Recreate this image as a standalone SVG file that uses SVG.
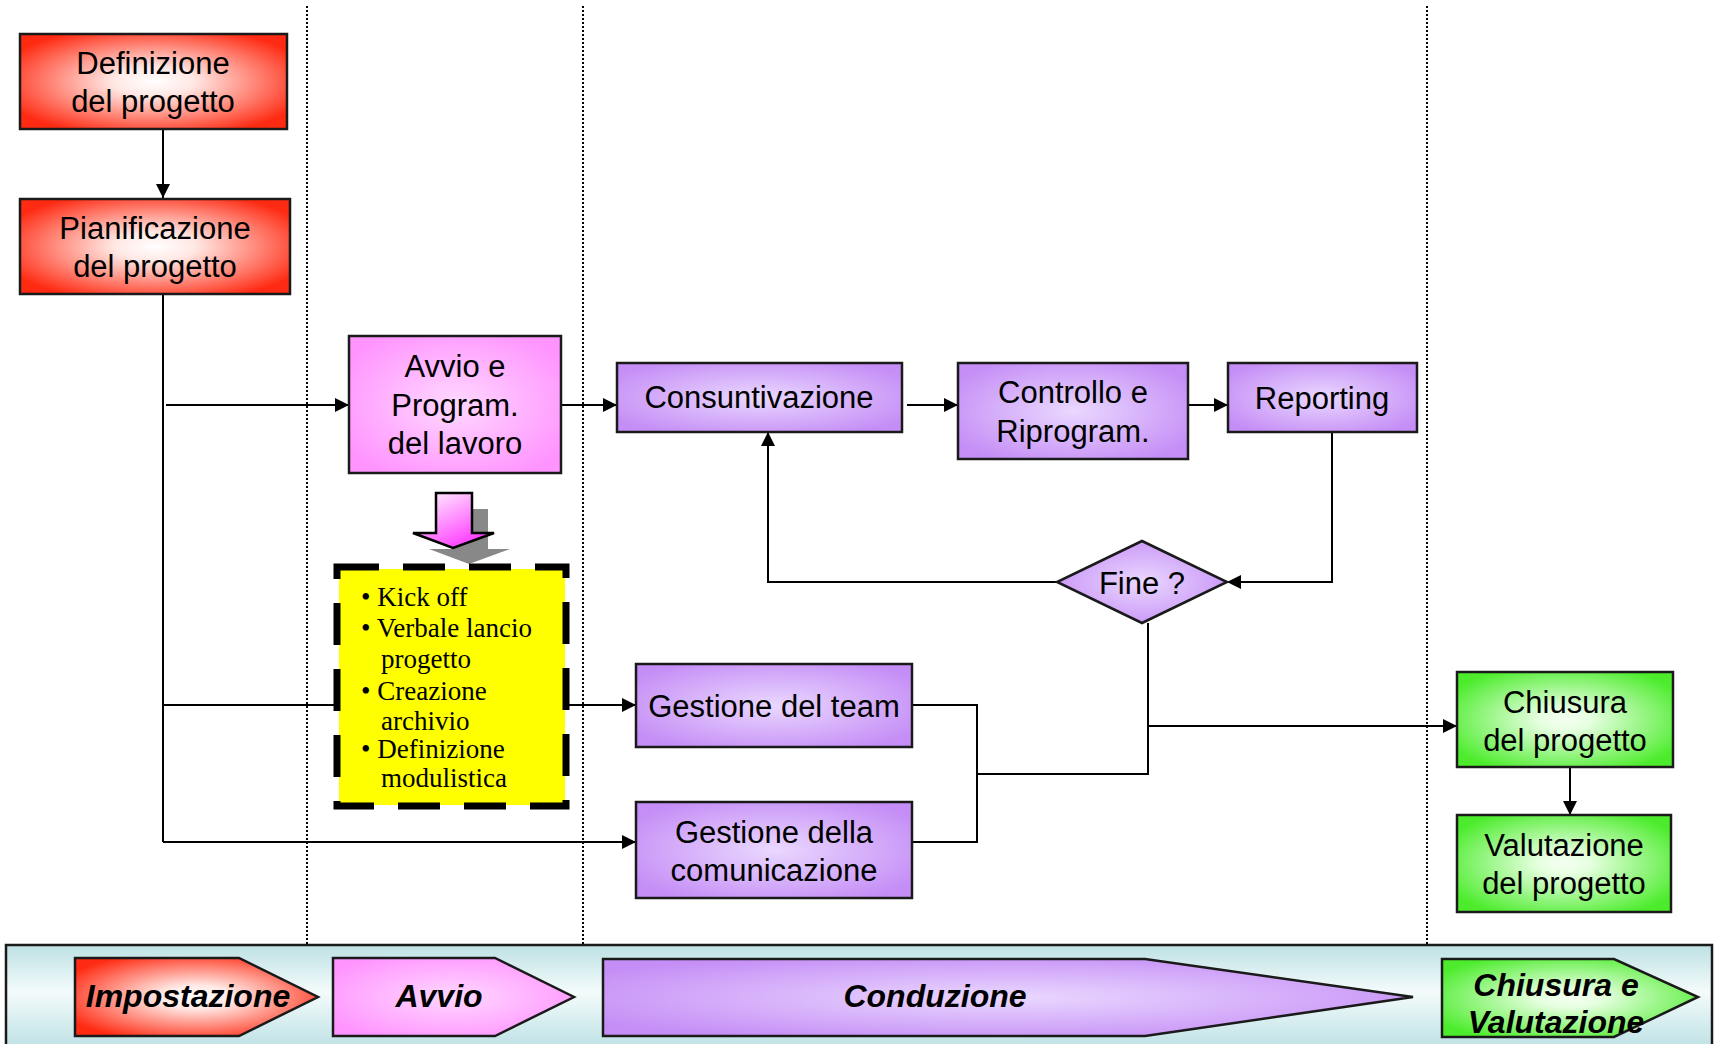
<svg xmlns="http://www.w3.org/2000/svg" width="1715" height="1044" viewBox="0 0 1715 1044">
<defs>
<radialGradient id="gRed" cx="0.5" cy="0.5" r="0.6"><stop offset="0" stop-color="#ffffff"/><stop offset="0.25" stop-color="#ffe8e4"/><stop offset="1" stop-color="#ff2a12"/></radialGradient>
<radialGradient id="gPink" cx="0.5" cy="0.5" r="0.6"><stop offset="0" stop-color="#ffd8ff"/><stop offset="1" stop-color="#ff94ff"/></radialGradient>
<radialGradient id="gPur" cx="0.5" cy="0.5" r="0.6"><stop offset="0" stop-color="#ead8ff"/><stop offset="1" stop-color="#c58ef6"/></radialGradient>
<radialGradient id="gGreen" cx="0.5" cy="0.5" r="0.6"><stop offset="0" stop-color="#f4fff2"/><stop offset="0.2" stop-color="#e6ffe0"/><stop offset="1" stop-color="#4cec2c"/></radialGradient>
<linearGradient id="gBand" x1="0" y1="0" x2="0" y2="1"><stop offset="0" stop-color="#bde1e4"/><stop offset="0.45" stop-color="#f4fbfb"/><stop offset="1" stop-color="#bde1e4"/></linearGradient>
<linearGradient id="gDown" x1="0" y1="0" x2="0.7" y2="1"><stop offset="0" stop-color="#ffffff"/><stop offset="1" stop-color="#ff33ff"/></linearGradient>
<marker id="arr" viewBox="0 0 14 14" refX="14" refY="7" markerWidth="15" markerHeight="14" markerUnits="userSpaceOnUse" orient="auto"><path d="M0,0 L14,7 L0,14 z" fill="#000"/></marker>
</defs>
<style>
.box{stroke:#1a1a1a;stroke-width:2.5}
.t{font-family:"Liberation Sans",Arial,sans-serif;font-size:31px;fill:#000;text-anchor:middle}
.bt{font-family:"Liberation Sans",Arial,sans-serif;font-size:32px;font-weight:bold;font-style:italic;fill:#000;text-anchor:middle}
.tm{font-family:"Liberation Serif","Times New Roman",serif;font-size:27px;fill:#000}
.c{fill:none;stroke:#000;stroke-width:2}
.dot{fill:none;stroke:#000;stroke-width:2;stroke-dasharray:2 2}
</style>
<rect width="1715" height="1044" fill="#ffffff"/>

<g id="swimlanes">
<line class="dot" x1="307" y1="6" x2="307" y2="944"/>
<line class="dot" x1="583" y1="6" x2="583" y2="944"/>
<line class="dot" x1="1427" y1="6" x2="1427" y2="944"/>
</g>

<g id="connectors">
<path class="c" d="M163,129 V198" marker-end="url(#arr)"/>
<path class="c" d="M163,295 V842"/>
<path class="c" d="M166,405 H349" marker-end="url(#arr)"/>
<path class="c" d="M163,705 H337"/>
<path class="c" d="M163,842 H636" marker-end="url(#arr)"/>
<path class="c" d="M561,405 H617" marker-end="url(#arr)"/>
<path class="c" d="M907,405 H958" marker-end="url(#arr)"/>
<path class="c" d="M1188,405 H1228" marker-end="url(#arr)"/>
<path class="c" d="M1332,432 V582 H1227" marker-end="url(#arr)"/>
<path class="c" d="M1057,582 H768 V432" marker-end="url(#arr)"/>
<path class="c" d="M567,705 H636" marker-end="url(#arr)"/>
<path class="c" d="M912,705 H977 V842 H912"/>
<path class="c" d="M977,774 H1148 V623"/>
<path class="c" d="M1148,726 H1457" marker-end="url(#arr)"/>
<path class="c" d="M1570,767 V815" marker-end="url(#arr)"/>
</g>

<g id="n-definizione">
<rect class="box" x="20" y="34" width="267" height="95" fill="url(#gRed)"/>
<text class="t" x="153" y="74">Definizione</text>
<text class="t" x="153" y="112">del progetto</text>
</g>
<g id="n-pianificazione">
<rect class="box" x="20" y="199" width="270" height="95" fill="url(#gRed)"/>
<text class="t" x="155" y="239">Pianificazione</text>
<text class="t" x="155" y="277">del progetto</text>
</g>
<g id="n-avvio">
<rect class="box" x="349" y="336" width="212" height="137" fill="url(#gPink)"/>
<text class="t" x="455" y="377">Avvio e</text>
<text class="t" x="455" y="416">Program.</text>
<text class="t" x="455" y="454">del lavoro</text>
</g>
<g id="n-down-arrow">
<polygon points="452,509 488,509 488,549 510,549 469,564 429,549 452,549" fill="#888888"/>
<polygon points="436,493 472,493 472,533 494,533 453,548 413,533 436,533" fill="url(#gDown)" stroke="#000" stroke-width="2.5" stroke-linejoin="miter"/>
</g>
<g id="n-kickoff">
<rect x="339" y="569" width="226" height="236" fill="#ffff00"/>
<rect x="337" y="567" width="229" height="239" fill="none" stroke="#000" stroke-width="7" stroke-dasharray="42 24"/>
<text class="tm" x="361" y="606">• Kick off</text>
<text class="tm" x="361" y="637">• Verbale lancio</text>
<text class="tm" x="381" y="668">progetto</text>
<text class="tm" x="361" y="700">• Creazione</text>
<text class="tm" x="381" y="730">archivio</text>
<text class="tm" x="361" y="758">• Definizione</text>
<text class="tm" x="381" y="787">modulistica</text>
</g>
<g id="n-consuntivazione">
<rect class="box" x="617" y="363" width="285" height="69" fill="url(#gPur)"/>
<text class="t" x="759" y="408">Consuntivazione</text>
</g>
<g id="n-controllo">
<rect class="box" x="958" y="363" width="230" height="96" fill="url(#gPur)"/>
<text class="t" x="1073" y="403">Controllo e</text>
<text class="t" x="1073" y="442">Riprogram.</text>
</g>
<g id="n-reporting">
<rect class="box" x="1228" y="363" width="189" height="69" fill="url(#gPur)"/>
<text class="t" x="1322" y="409">Reporting</text>
</g>
<g id="n-fine">
<polygon class="box" points="1142,541 1227,582 1142,623 1057,582" fill="url(#gPur)"/>
<text class="t" x="1142" y="594">Fine ?</text>
</g>
<g id="n-team">
<rect class="box" x="636" y="664" width="276" height="83" fill="url(#gPur)"/>
<text class="t" x="774" y="717">Gestione del team</text>
</g>
<g id="n-comunicazione">
<rect class="box" x="636" y="802" width="276" height="96" fill="url(#gPur)"/>
<text class="t" x="774" y="843">Gestione della</text>
<text class="t" x="774" y="881">comunicazione</text>
</g>
<g id="n-chiusura">
<rect class="box" x="1457" y="672" width="216" height="95" fill="url(#gGreen)"/>
<text class="t" x="1565" y="713">Chiusura</text>
<text class="t" x="1565" y="751">del progetto</text>
</g>
<g id="n-valutazione">
<rect class="box" x="1457" y="815" width="214" height="97" fill="url(#gGreen)"/>
<text class="t" x="1564" y="856">Valutazione</text>
<text class="t" x="1564" y="894">del progetto</text>
</g>

<g id="phase-band">
<rect x="6" y="945" width="1706" height="104" fill="url(#gBand)" stroke="#1a1a1a" stroke-width="2.5"/>
<polygon class="box" points="75,958 239,958 318,997 239,1036 75,1036" fill="url(#gRed)"/>
<text class="bt" x="188" y="1007">Impostazione</text>
<polygon class="box" points="333,958 495,958 574,997 495,1036 333,1036" fill="url(#gPink)"/>
<text class="bt" x="439" y="1007">Avvio</text>
<polygon class="box" points="603,959 1145,959 1413,997 1145,1036 603,1036" fill="url(#gPur)"/>
<text class="bt" x="935" y="1007">Conduzione</text>
<polygon class="box" points="1442,959 1614,959 1698,997 1614,1037 1442,1037" fill="url(#gGreen)"/>
<text class="bt" x="1556" y="996">Chiusura e</text>
<text class="bt" x="1556" y="1033">Valutazione</text>
</g>
</svg>
